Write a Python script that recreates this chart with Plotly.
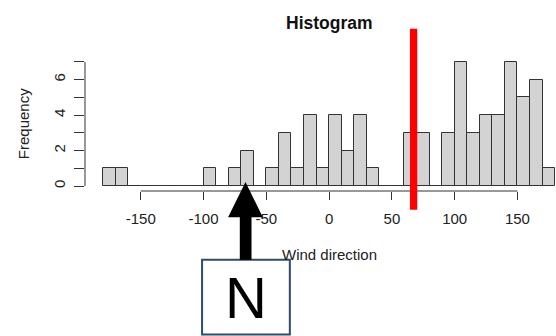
import plotly.graph_objects as go

# Wind-direction histogram: 10-degree bins from -180 to 180
bin_left = list(range(-180, 180, 10))
counts = [1, 1, 0, 0, 0, 0, 0, 0, 1, 0,
          1, 2, 0, 1, 3, 1, 4, 1, 4, 2,
          4, 1, 0, 0, 3, 3, 0, 3, 7, 3,
          4, 4, 7, 5, 6, 1]
bin_width = 10
bin_centers = [b + bin_width / 2 for b in bin_left]

x_ticks = [-150, -100, -50, 0, 50, 100, 150]
x_ticktext = ["-150", "-100", "-50", "0", "50", "100", "150"]
y_ticks = [0, 1, 2, 3, 4, 5, 6, 7]
y_ticktext = ["0", "", "2", "", "4", "", "6", ""]
marker_direction = 67.3  # red reference line

W, H = 556, 336
L, R, T, B = 85.3, 0, 57.4, 145.4
FONT = "Liberation Sans, Arial, sans-serif"


def px_x(x):
    return (x - L) / (W - L - R)


def px_y(y):
    return (H - B - y) / (H - T - B)


fig = go.Figure()
fig.add_trace(go.Bar(
    x=bin_centers, y=counts, width=bin_width,
    marker=dict(color="#d3d3d3", line=dict(color="#333333", width=1)),
    hoverinfo="x+y",
))

shapes = [
    # R-style axis lines spanning only the tick range
    dict(type="line", xref="x", yref="paper", x0=x_ticks[0], x1=x_ticks[-1],
         y0=0, y1=0, line=dict(color="#333333", width=1)),
    dict(type="line", xref="paper", yref="y", x0=0, x1=0,
         y0=y_ticks[0], y1=y_ticks[-1], line=dict(color="#333333", width=1)),
    # red reference line
    dict(type="line", xref="x", yref="paper", x0=marker_direction, x1=marker_direction,
         y0=px_y(209.3), y1=px_y(29.3), line=dict(color="#ff0000", width=7.3)),
    # box for the north label
    dict(type="rect", xref="paper", yref="paper",
         x0=px_x(202.3), x1=px_x(290), y0=px_y(333.3), y1=px_y(259),
         fillcolor="white", line=dict(color="#2e4b6c", width=2)),
]

# north arrow drawn as a filled polygon
arrow_pts = [(240.0, 259), (240.0, 216.7), (228.3, 216.7), (245.7, 181.7),
             (263.0, 216.7), (251.7, 216.7), (251.7, 259)]
path = "M " + " L ".join(f"{px_x(x):.5f},{px_y(y):.5f}" for x, y in arrow_pts) + " Z"
shapes.append(dict(type="path", xref="paper", yref="paper", path=path,
                   fillcolor="black", line=dict(color="black", width=0)))

annotations = [
    dict(text="<b>Histogram</b>", xref="x", yref="paper", x=0, y=px_y(24),
         showarrow=False, font=dict(family=FONT, size=17.5, color="#111111"),
         xanchor="center", yanchor="middle"),
    dict(text="Wind direction", xref="x", yref="paper", x=0, y=px_y(254),
         showarrow=False, font=dict(family=FONT, size=15, color="#222222"),
         xanchor="center", yanchor="middle"),
    dict(text="Frequency", xref="paper", yref="paper", x=px_x(24), y=px_y(123.5),
         showarrow=False, textangle=-90, font=dict(family=FONT, size=15, color="#222222"),
         xanchor="center", yanchor="middle"),
    dict(text="N", xref="paper", yref="paper", x=px_x(246.2), y=px_y(296),
         showarrow=False, font=dict(family=FONT, size=58, color="black"),
         xanchor="center", yanchor="middle"),
]

fig.update_layout(
    width=W, height=H,
    margin=dict(l=L, r=R, t=T, b=B, pad=0),
    paper_bgcolor="white", plot_bgcolor="white",
    showlegend=False, bargap=0,
    shapes=shapes, annotations=annotations,
    xaxis=dict(range=[-194.4, 180.7], tickvals=x_ticks, ticktext=x_ticktext,
               ticks="outside", ticklen=8, ticklabelstandoff=6,
               tickcolor="#333333", showline=False, showgrid=False, zeroline=False,
               tickfont=dict(family=FONT, size=15, color="#222222")),
    yaxis=dict(range=[-0.28, 7.28], tickvals=y_ticks, ticktext=y_ticktext,
               tickangle=-90, ticks="outside", ticklen=10, ticklabelstandoff=3,
               tickcolor="#333333",
               showline=False, showgrid=False, zeroline=False,
               tickfont=dict(family=FONT, size=15, color="#222222")),
)

fig.write_html("out.html")
